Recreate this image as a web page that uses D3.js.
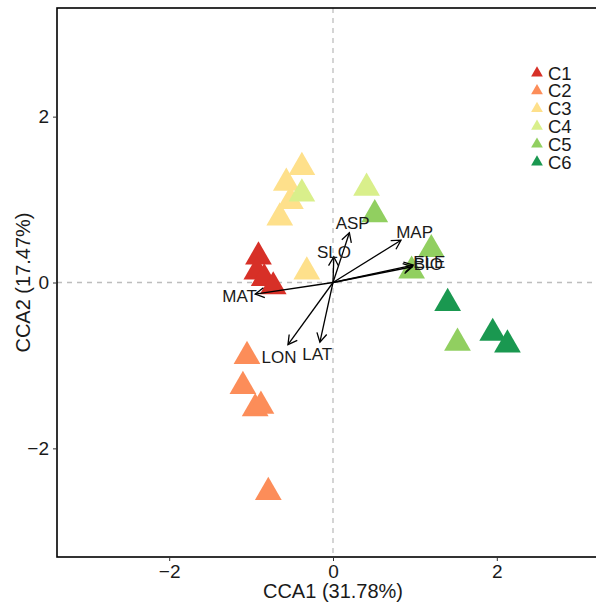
<!DOCTYPE html>
<html>
<head>
<meta charset="utf-8">
<script src="https://cdn.jsdelivr.net/npm/d3@7"></script>
<style>
  body { margin: 0; background: #fff; }
  text { font-family: "Liberation Sans", Arial, sans-serif; }
</style>
</head>
<body>
<div id="chart"></div>
<script>
// groups and site scores (CCA1, CCA2)
var groups = ["C1", "C2", "C3", "C4", "C5", "C6"];
var colors = ["#D73027", "#FC8D59", "#FEE08B", "#D9EF8B", "#91CF60", "#1A9850"];

var siteGroup = ["C1", "C1", "C1", "C1",
                 "C2", "C2", "C2", "C2", "C2",
                 "C3", "C3", "C3", "C3", "C3",
                 "C4", "C4",
                 "C5", "C5", "C5", "C5",
                 "C6", "C6", "C6"];
var siteX = [-0.91, -0.93, -0.84, -0.73,
             -1.05, -1.10, -0.95, -0.88, -0.79,
             -0.38, -0.57, -0.52, -0.65, -0.32,
             -0.38, 0.41,
             0.51, 1.20, 0.96, 1.52,
             1.40, 1.95, 2.13];
var siteY = [0.31, 0.13, 0.05, -0.05,
             -0.89, -1.25, -1.52, -1.49, -2.53,
             1.39, 1.20, 0.98, 0.78, 0.13,
             1.07, 1.14,
             0.82, 0.40, 0.14, -0.73,
             -0.25, -0.61, -0.75];

// environmental vectors
var envNames = ["MAT", "SLO", "ASP", "MAP", "ELE", "BIO", "LON", "LAT"];
var envX = [-0.95, 0.01, 0.20, 0.83, 0.98, 0.97, -0.55, -0.16];
var envY = [-0.14, 0.31, 0.60, 0.51, 0.21, 0.19, -0.75, -0.72];

var xTicks = [-2, 0, 2];
var yTicks = [-2, 0, 2];

(function () {
    var width = 596, height = 603;
    var pLeft = 57, pTop = 8, pBottom = 557, pRight = 609;

    var svg = d3.select("#chart")
        .append("svg")
        .attr("width", width)
        .attr("height", height);

    var x = d3.scaleLinear().domain([-3.37, 3.37]).range([pLeft, pRight]);
    var y = d3.scaleLinear().domain([-3.31, 3.31]).range([pBottom, pTop]);
    var color = d3.scaleOrdinal().domain(groups).range(colors);

    var plot = svg.append("g");

    // zero lines
    plot.append("line")
        .attr("x1", x(0)).attr("x2", x(0))
        .attr("y1", pTop).attr("y2", pBottom)
        .style("stroke", "#bdbdbd")
        .style("stroke-width", 1.3)
        .style("stroke-dasharray", "5,5");
    plot.append("line")
        .attr("x1", pLeft).attr("x2", pRight)
        .attr("y1", y(0)).attr("y2", y(0))
        .style("stroke", "#bdbdbd")
        .style("stroke-width", 1.3)
        .style("stroke-dasharray", "5,5");

    // sites
    var tri = d3.symbol().type(d3.symbolTriangle).size(310);
    plot.selectAll("path.site")
        .data(siteX)
        .enter()
        .append("path")
        .attr("class", "site")
        .attr("d", tri)
        .attr("transform", function (d, i) {
            return "translate(" + x(d) + "," + y(siteY[i]) + ")";
        })
        .style("fill", function (d, i) { return color(siteGroup[i]); });

    // arrows
    svg.append("defs").append("marker")
        .attr("id", "head")
        .attr("viewBox", "-10 -6 12 12")
        .attr("refX", 0).attr("refY", 0)
        .attr("markerWidth", 12).attr("markerHeight", 12)
        .attr("markerUnits", "userSpaceOnUse")
        .attr("orient", "auto")
        .append("path")
        .attr("d", "M-9,-5L0,0L-9,5")
        .style("fill", "none")
        .style("stroke", "#000")
        .style("stroke-width", 1.3);

    plot.selectAll("line.env")
        .data(envX)
        .enter()
        .append("line")
        .attr("class", "env")
        .attr("x1", x(0)).attr("y1", y(0))
        .attr("x2", function (d) { return x(d); })
        .attr("y2", function (d, i) { return y(envY[i]); })
        .attr("marker-end", "url(#head)")
        .style("stroke", "#000")
        .style("stroke-width", 1.3);

    plot.selectAll("text.env")
        .data(envX)
        .enter()
        .append("text")
        .attr("class", "env")
        .attr("x", function (d) { return x(d * 1.2); })
        .attr("y", function (d, i) { return y(envY[i] * 1.2); })
        .attr("dy", "0.35em")
        .attr("text-anchor", "middle")
        .style("font-size", "17px")
        .style("fill", "#1a1a1a")
        .text(function (d, i) { return envNames[i]; });

    // panel border
    svg.append("rect")
        .attr("x", pLeft).attr("y", pTop)
        .attr("width", pRight - pLeft).attr("height", pBottom - pTop)
        .style("fill", "none")
        .style("stroke", "#000")
        .style("stroke-width", 1.6);

    // axes
    var fmt = function (d) { return d < 0 ? "\u2212" + Math.abs(d) : d; };
    var xAxis = svg.append("g")
        .attr("transform", "translate(0," + pBottom + ")")
        .call(d3.axisBottom(x).tickValues(xTicks).tickSize(4).tickPadding(4).tickFormat(fmt));
    var yAxis = svg.append("g")
        .attr("transform", "translate(" + pLeft + ",0)")
        .call(d3.axisLeft(y).tickValues(yTicks).tickSize(4).tickPadding(4).tickFormat(fmt));
    [xAxis, yAxis].forEach(function (a) {
        a.select(".domain").remove();
        a.selectAll("line").style("stroke", "#333");
        a.selectAll("text")
            .style("font-size", "19px")
            .style("fill", "#1a1a1a")
            .style("font-family", "'Liberation Sans', Arial, sans-serif");
    });

    svg.append("text")
        .attr("x", x(0)).attr("y", 598)
        .attr("text-anchor", "middle")
        .style("font-size", "20px")
        .style("fill", "#1a1a1a")
        .text("CCA1 (31.78%)");
    svg.append("text")
        .attr("transform", "translate(30," + y(0) + ") rotate(-90)")
        .attr("text-anchor", "middle")
        .style("font-size", "20px")
        .style("fill", "#1a1a1a")
        .text("CCA2 (17.47%)");

    // legend
    var legend = svg.selectAll("g.legend")
        .data(groups)
        .enter()
        .append("g")
        .attr("class", "legend")
        .attr("transform", function (d, i) { return "translate(537," + (73 + i * 17.8) + ")"; });
    legend.append("path")
        .attr("d", d3.symbol().type(d3.symbolTriangle).size(60))
        .style("fill", function (d) { return color(d); });
    legend.append("text")
        .attr("x", 11).attr("dy", "0.36em")
        .style("font-size", "18.5px")
        .style("fill", "#1a1a1a")
        .text(function (d) { return d; });
})();
</script>
</body>
</html>
